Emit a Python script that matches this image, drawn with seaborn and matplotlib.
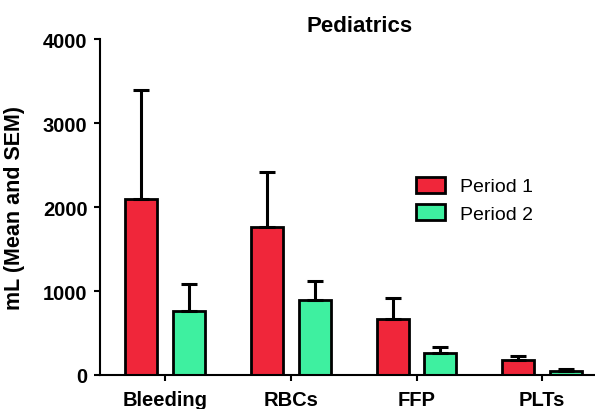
import matplotlib
matplotlib.use("Agg")
import matplotlib.pyplot as plt
import seaborn as sns
import pandas as pd

categories = ["Bleeding", "RBCs", "FFP", "PLTs"]
periods = ["Period 1", "Period 2"]
period1_mean = [2100, 1765, 665, 180]
period1_sem = [1300, 655, 250, 50]
period2_mean = [758, 896, 258, 50]
period2_sem = [322, 227, 72, 20]

colors = ["#F0263A", "#3EF0A0"]

df = pd.DataFrame({
    "category": categories * 2,
    "period": [periods[0]] * 4 + [periods[1]] * 4,
    "value": period1_mean + period2_mean,
})
sems = [period1_sem, period2_sem]

sns.set_style("ticks")
plt.rcParams["font.family"] = ["Liberation Sans", "DejaVu Sans"]
plt.rcParams["text.color"] = "black"
plt.rcParams["axes.labelcolor"] = "black"
plt.rcParams["xtick.color"] = "black"
plt.rcParams["ytick.color"] = "black"

fig = plt.figure(figsize=(5.95, 4.10), dpi=100)
ax = fig.add_axes([0.168, 0.083, 0.832, 0.819])

sns.barplot(data=df, x="category", y="value", hue="period", palette=colors,
            errorbar=None, width=0.76, gap=0.33, edgecolor="black",
            linewidth=2, saturation=1, ax=ax)

# upper-only SEM bars
for cont, err in zip(ax.containers, sems):
    xs = [b.get_x() + b.get_width() / 2 for b in cont]
    ys = [b.get_height() for b in cont]
    ax.errorbar(xs, ys, yerr=[[0] * len(err), err], fmt="none", ecolor="black",
                elinewidth=2.2, capsize=6, capthick=2.2, zorder=1)

ax.set_ylim(0, 4000)
ax.set_xlim(-0.52, 3.42)
ax.set_yticks([0, 1000, 2000, 3000, 4000])
ax.set_xlabel("")
ax.set_ylabel("mL (Mean and SEM)", fontsize=15.5, fontweight="bold")
ax.yaxis.set_label_coords(-0.152, 0.5)
for lbl in ax.get_xticklabels() + ax.get_yticklabels():
    lbl.set_fontweight("bold")
    lbl.set_fontsize(14.5)
ax.tick_params(axis="both", length=4, width=1.5, color="black", pad=5)
ax.tick_params(axis="x", pad=7)
sns.despine(ax=ax)
for s in ["left", "bottom"]:
    ax.spines[s].set_linewidth(1.5)
    ax.spines[s].set_color("black")

fig.text(360 / 595, 1 - 32 / 410, "Pediatrics", ha="center", va="baseline",
         fontsize=16, fontweight="bold")

ax.legend(loc="upper left", bbox_to_anchor=(399 / 595, 1 - 160 / 410),
          bbox_transform=fig.transFigure, frameon=False, fontsize=14,
          handlelength=1.45, handleheight=0.9, handletextpad=0.77, labelspacing=0.44)

fig.savefig("out.png", dpi=100)
